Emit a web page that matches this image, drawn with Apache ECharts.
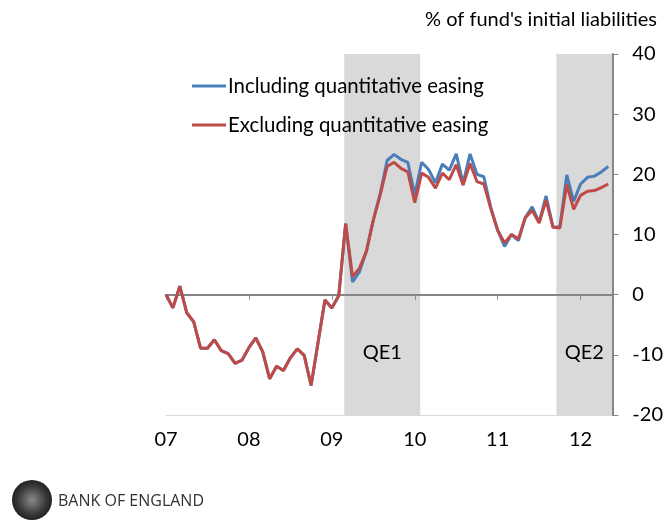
<!DOCTYPE html>
<html>
<head>
<meta charset="utf-8">
<script src="https://cdn.jsdelivr.net/npm/echarts@6/dist/echarts.min.js"></script>
<style>
  html, body { margin: 0; padding: 0; background: #fff; }
  #chart { width: 666px; height: 523px; }
</style>
</head>
<body>
<div id="chart"></div>
<script>
// months since Jan 2007, one point per month (Jan 2007 .. May 2012)
const yearLabels = ['07', '08', '09', '10', '11', '12'];

const inclQE = [
  0, -2.2, 1.4, -3, -4.5, -8.9, -8.9, -7.5, -9.3, -9.8, -11.4, -10.9,
  -8.8, -7.2, -9.5, -14, -11.9, -12.6, -10.5, -9, -10.1, -15.1, -8, -0.9,
  -2.2, -0.2, 11.8, 2.1, 3.8, 7.2, 12.4, 16.8, 22.3, 23.3, 22.5, 22.0,
  16.6, 22.0, 20.8, 18.6, 21.7, 20.7, 23.4, 18.5, 23.4, 20.0, 19.6, 14.5,
  10.7, 8.0, 10.0, 9.0, 12.8, 14.6, 12.0, 16.4, 11.3, 11.2, 19.9, 15.5,
  18.4, 19.5, 19.7, 20.4, 21.3
];

const exclQE = [
  0, -2.2, 1.4, -3, -4.5, -8.9, -8.9, -7.5, -9.3, -9.8, -11.4, -10.9,
  -8.8, -7.2, -9.5, -14, -11.9, -12.6, -10.5, -9, -10.1, -15.1, -8, -0.9,
  -2.2, -0.2, 11.8, 3.0, 4.4, 7.2, 12.4, 16.6, 21.3, 22.0, 21.0, 20.4,
  15.3, 20.2, 19.5, 17.7, 20.2, 19.1, 21.6, 18.2, 21.8, 18.8, 18.4, 14.3,
  10.7, 8.6, 10.0, 9.3, 12.8, 14.0, 11.9, 15.7, 11.2, 11.1, 18.3, 14.2,
  16.5, 17.2, 17.3, 17.8, 18.4
];

// QE periods in months since Jan 2007: [start, end, label]
const qeBands = [
  [25.8, 36.8, 'QE1'],
  [56.5, 64.6, 'QE2']
];

const FONT = 'Lato, "Open Sans", sans-serif';

const chart = echarts.init(document.getElementById('chart'));

const option = {
  animation: false,
  backgroundColor: '#fff',
  textStyle: { fontFamily: FONT },
  title: {
    text: "% of fund's initial liabilities",
    right: 4,
    top: 5,
    textStyle: { fontFamily: FONT, fontSize: 20, fontWeight: 'normal', color: '#000' }
  },
  legend: {
    orient: 'vertical',
    left: 187,
    top: 71,
    icon: 'rect',
    itemWidth: 34,
    itemHeight: 3,
    itemGap: 19,
    textStyle: { fontFamily: FONT, fontSize: 20.4, color: '#000', padding: [0, 0, 0, -3] },
    data: ['Including quantitative easing', 'Excluding quantitative easing']
  },
  grid: {
    left: 166,
    right: 52,
    top: 54,
    bottom: 108
  },
  xAxis: [
    {
      type: 'value',
      min: 0,
      max: 64.6,
      interval: 12,
      axisLine: { show: true, onZero: false, lineStyle: { color: '#d9d9d9', width: 1 } },
      axisTick: { show: false },
      splitLine: { show: false },
      axisLabel: {
        fontFamily: FONT,
        fontSize: 20,
        color: '#000',
        margin: 15,
        showMaxLabel: false,
        formatter: v => (v % 12 === 0 ? yearLabels[v / 12] || '' : '')
      }
    },
    {
      type: 'value',
      position: 'bottom',
      min: 0,
      max: 64.6,
      interval: 12,
      z: 2,
      axisLine: { show: true, onZero: true, lineStyle: { color: '#868686', width: 2 } },
      axisTick: { show: true, length: 5, lineStyle: { color: '#868686', width: 1 } },
      axisLabel: { show: false },
      splitLine: { show: false }
    }
  ],
  yAxis: {
    type: 'value',
    position: 'right',
    min: -20,
    max: 40,
    interval: 10,
    z: 2,
    axisLine: { show: true, onZero: false, lineStyle: { color: '#868686', width: 2 } },
    axisTick: { show: true, length: 6, lineStyle: { color: '#868686', width: 1 } },
    splitLine: { show: false },
    axisLabel: {
      fontFamily: FONT,
      fontSize: 20,
      color: '#000',
      margin: 20,
      align: 'left'
    }
  },
  series: [
    {
      name: 'Including quantitative easing',
      type: 'line',
      symbol: 'none',
      data: inclQE.map((v, i) => [i, v]),
      lineStyle: { color: '#4a7ebb', width: 3 },
      itemStyle: { color: '#4a7ebb' },
      z: 3,
      markArea: {
        silent: true,
        z: 1,
        itemStyle: { color: '#d9d9d9' },
        label: {
          show: true,
          position: 'insideBottom',
          distance: 52,
          fontFamily: FONT,
          fontSize: 20,
          color: '#000'
        },
        data: qeBands.map(b => [{ name: b[2], xAxis: b[0] }, { xAxis: b[1] }])
      }
    },
    {
      name: 'Excluding quantitative easing',
      type: 'line',
      symbol: 'none',
      data: exclQE.map((v, i) => [i, v]),
      lineStyle: { color: '#be4b48', width: 3 },
      itemStyle: { color: '#be4b48' },
      z: 4
    }
  ],
  graphic: [
    {
      type: 'circle',
      left: 12,
      top: 480,
      shape: { r: 20 },
      style: {
        fill: {
          type: 'radial', x: 0.5, y: 0.5, r: 0.5,
          colorStops: [
            { offset: 0, color: '#8a8a8a' },
            { offset: 0.7, color: '#3a3a3a' },
            { offset: 1, color: '#222' }
          ]
        }
      }
    },
    {
      type: 'text',
      left: 58,
      top: 493,
      style: {
        text: 'BANK OF ENGLAND',
        fontFamily: '"Open Sans", sans-serif',
        fontSize: 16,
        fill: '#333'
      }
    }
  ]
};

chart.setOption(option);
</script>
</body>
</html>
